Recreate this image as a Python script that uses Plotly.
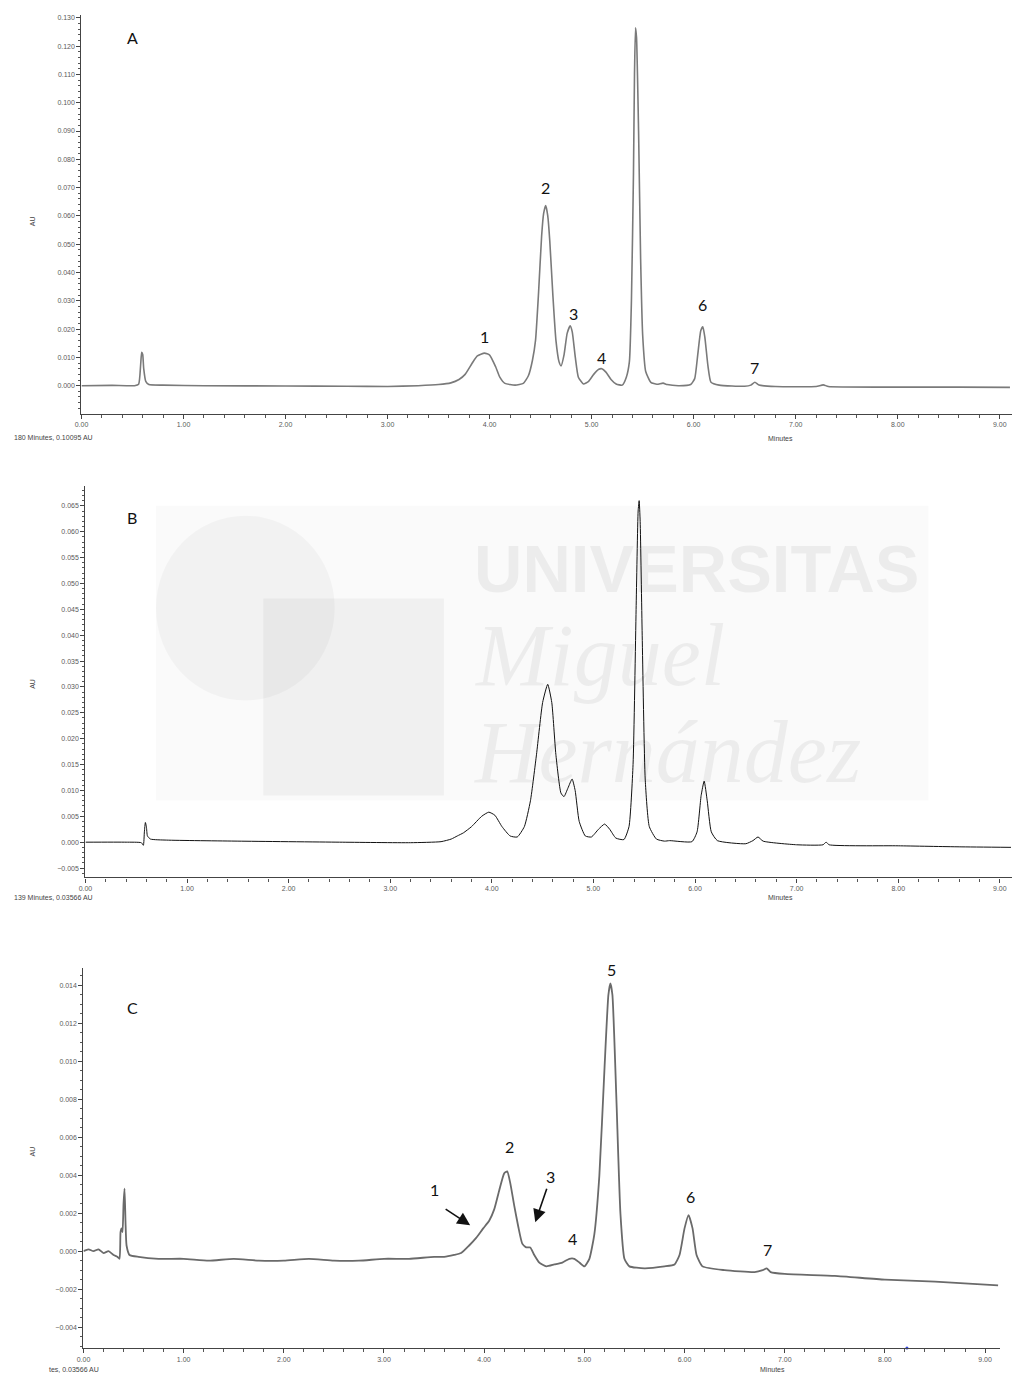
import plotly.graph_objects as go

W, H = 1013, 1375

# ---------------- chromatogram A ----------------
time_a = [0.00, 0.30, 0.52, 0.56, 0.58, 0.59, 0.60, 0.61, 0.63, 0.66, 0.80, 1.20, 2.00, 2.60,
          3.00, 3.30, 3.50, 3.62, 3.70, 3.76, 3.83, 3.88, 3.95, 4.00, 4.06, 4.10, 4.15, 4.25,
          4.33, 4.38, 4.42, 4.45, 4.48, 4.51, 4.53, 4.55, 4.57, 4.59, 4.62, 4.65, 4.68, 4.70,
          4.73, 4.76, 4.79, 4.81, 4.84, 4.87, 4.92, 4.97, 5.02, 5.07, 5.10, 5.14, 5.19, 5.24,
          5.30, 5.34, 5.37, 5.39, 5.41, 5.42, 5.43, 5.44, 5.46, 5.48, 5.50, 5.53, 5.58, 5.64,
          5.70, 5.74, 5.85, 5.97, 6.01, 6.04, 6.07, 6.09, 6.11, 6.14, 6.17, 6.25, 6.50, 6.56,
          6.60, 6.64, 6.80, 7.20, 7.27, 7.32, 8.00, 8.60, 9.10]
au_a = [0.0000, 0.0001, 0.0000, 0.0005, 0.0075, 0.0118, 0.0110, 0.0060, 0.0015, 0.0004,
        0.0002, 0.0000, -0.0001, -0.0002, -0.0003, 0.0000, 0.0004, 0.0010, 0.0022, 0.0040,
        0.0080, 0.0105, 0.0115, 0.0108, 0.0066, 0.0030, 0.0008, 0.0002, 0.0008, 0.0035,
        0.0090, 0.0160, 0.0330, 0.0530, 0.0610, 0.0637, 0.0600, 0.0510, 0.0320, 0.0160,
        0.0085, 0.0070, 0.0110, 0.0185, 0.0212, 0.0190, 0.0100, 0.0030, 0.0006, 0.0015,
        0.0040, 0.0058, 0.0060, 0.0048, 0.0022, 0.0006, 0.0002, 0.0030, 0.0085, 0.0300,
        0.0750, 0.1100, 0.1265, 0.1230, 0.0900, 0.0450, 0.0180, 0.0050, 0.0012, 0.0005,
        0.0009, 0.0004, 0.0000, 0.0004, 0.0025, 0.0110, 0.0195, 0.0208, 0.0170, 0.0070,
        0.0012, 0.0002, -0.0002, 0.0002, 0.0012, 0.0002, -0.0003, -0.0003, 0.0003, -0.0003,
        -0.0005, -0.0005, -0.0006]

# ---------------- chromatogram B ----------------
time_b = [0.00, 0.40, 0.55, 0.57, 0.58, 0.59, 0.60, 0.61, 0.64, 0.80, 1.50, 2.50, 3.20, 3.50,
          3.60, 3.66, 3.72, 3.80, 3.90, 3.97, 4.03, 4.10, 4.18, 4.25, 4.32, 4.38, 4.44, 4.50,
          4.55, 4.59, 4.63, 4.68, 4.71, 4.75, 4.79, 4.82, 4.86, 4.92, 4.98, 5.05, 5.11, 5.16,
          5.22, 5.30, 5.35, 5.39, 5.42, 5.44, 5.45, 5.46, 5.48, 5.51, 5.55, 5.62, 5.70, 5.75,
          5.97, 6.02, 6.06, 6.09, 6.12, 6.16, 6.22, 6.50, 6.57, 6.62, 6.67, 7.00, 7.26, 7.29,
          7.32, 8.00, 8.60, 9.11]
au_b = [0.0000, 0.0000, -0.0001, -0.0006, 0.0020, 0.0038, 0.0030, 0.0012, 0.0006, 0.0004,
        0.0002, 0.0000, -0.0001, 0.0001, 0.0006, 0.0012, 0.0018, 0.0030, 0.0050, 0.0058,
        0.0052, 0.0030, 0.0012, 0.0010, 0.0030, 0.0080, 0.0170, 0.0270, 0.0305, 0.0270,
        0.0170, 0.0095, 0.0088, 0.0105, 0.0122, 0.0100, 0.0040, 0.0012, 0.0010, 0.0025,
        0.0035, 0.0025, 0.0008, 0.0005, 0.0030, 0.0150, 0.0450, 0.0640, 0.0660, 0.0620,
        0.0400, 0.0120, 0.0030, 0.0006, 0.0002, 0.0003, 0.0001, 0.0020, 0.0090, 0.0118,
        0.0080, 0.0020, 0.0003, -0.0003, 0.0003, 0.0010, 0.0002, -0.0005, -0.0005, 0.0000,
        -0.0005, -0.0007, -0.0009, -0.0010]

# ---------------- chromatogram C ----------------
time_c = [0.00, 0.05, 0.10, 0.15, 0.20, 0.25, 0.30, 0.34, 0.36, 0.37, 0.38, 0.39, 0.40, 0.41,
          0.42, 0.43, 0.46, 0.55, 0.75, 1.00, 1.25, 1.50, 1.75, 2.00, 2.25, 2.50, 2.75, 3.00,
          3.25, 3.50, 3.60, 3.70, 3.77, 3.85, 3.92, 3.99, 4.05, 4.10, 4.15, 4.20, 4.23, 4.26,
          4.30, 4.34, 4.38, 4.42, 4.46, 4.50, 4.55, 4.62, 4.70, 4.78, 4.85, 4.90, 4.95, 5.00,
          5.05, 5.10, 5.15, 5.20, 5.24, 5.26, 5.28, 5.32, 5.36, 5.40, 5.45, 5.60, 5.80, 5.90,
          5.95, 6.00, 6.04, 6.08, 6.12, 6.18, 6.40, 6.70, 6.78, 6.82, 6.86, 7.00, 7.50, 8.00,
          8.50, 9.13]
au_c = [0.0000, 0.0001, 0.0000, 0.0001, -0.0001, 0.0000, -0.0002, -0.0003, -0.0004, 0.0010,
        0.0012, 0.0010, 0.0025, 0.0033, 0.0015, 0.0003, -0.0002, -0.0003, -0.0004, -0.0004,
        -0.0005, -0.0004, -0.0005, -0.0005, -0.0004, -0.0005, -0.0005, -0.0004, -0.0004,
        -0.0003, -0.0003, -0.0002, -0.0001, 0.0003, 0.0007, 0.0012, 0.0016, 0.0022, 0.0032,
        0.0041, 0.0042, 0.0036, 0.0024, 0.0013, 0.0004, 0.0002, 0.0002, -0.0002, -0.0006,
        -0.0008, -0.0007, -0.0006, -0.0004, -0.0004, -0.0006, -0.0008, -0.0004, 0.0009,
        0.0040, 0.0095, 0.0135, 0.0141, 0.0135, 0.0080, 0.0020, -0.0004, -0.0008, -0.0009,
        -0.0008, -0.0007, -0.0002, 0.0012, 0.0019, 0.0012, -0.0002, -0.0008, -0.0010,
        -0.0011, -0.0010, -0.0009, -0.0011, -0.0012, -0.0013, -0.0015, -0.0016, -0.0018]

x_ticks = [0, 1, 2, 3, 4, 5, 6, 7, 8, 9]
x_tick_text = ["0.00", "1.00", "2.00", "3.00", "4.00", "5.00", "6.00", "7.00", "8.00", "9.00"]

panel_letters = ["A", "B", "C"]
peaks_a = [("1", 3.95, 0.0173), ("2", 4.55, 0.0700), ("3", 4.82, 0.0254), ("4", 5.10, 0.0099),
           ("5", 5.43, 0.1318), ("6", 6.09, 0.0286), ("7", 6.60, 0.0064)]
peaks_c = [("1", 3.50, 0.00326), ("2", 4.25, 0.00553), ("3", 4.66, 0.00395), ("4", 4.88, 0.00068),
           ("5", 5.27, 0.01484), ("6", 6.06, 0.00289), ("7", 6.83, 0.00010)]
footers = ["180 Minutes, 0.10095 AU", "139 Minutes, 0.03566 AU", "tes, 0.03566 AU"]


def px(x):
    return x / W


def py(y):
    return 1 - y / H


TICK_FONT = dict(family="Liberation Sans, Arial, sans-serif", size=7, color="#5a5a5a")
LABEL_FONT = dict(family="Lato, Open Sans, sans-serif", size=16, color="#111111")

fig = go.Figure()

fig.add_trace(go.Scatter(x=time_a, y=au_a, mode="lines", xaxis="x", yaxis="y",
                         line=dict(color="#7a7a7a", width=1.6, shape="spline", smoothing=0.5),
                         showlegend=False, hoverinfo="skip"))
fig.add_trace(go.Scatter(x=time_b, y=au_b, mode="lines", xaxis="x2", yaxis="y2",
                         line=dict(color="#111111", width=1.0, shape="spline", smoothing=0.5),
                         showlegend=False, hoverinfo="skip"))
fig.add_trace(go.Scatter(x=time_c, y=au_c, mode="lines", xaxis="x3", yaxis="y3",
                         line=dict(color="#6a6a6a", width=1.8, shape="spline", smoothing=0.5),
                         showlegend=False, hoverinfo="skip"))
# small blue marker on the time axis of chromatogram C
fig.add_trace(go.Scatter(x=[8.22], y=[-0.0051], mode="markers", xaxis="x3", yaxis="y3",
                         marker=dict(color="#3344dd", size=3), showlegend=False,
                         hoverinfo="skip", cliponaxis=False))


def xaxis_cfg(x0, x1, y_anchor, rng):
    return dict(domain=[px(x0), px(x1)], anchor=y_anchor, range=rng,
                tickmode="array", tickvals=x_ticks, ticktext=x_tick_text,
                ticks="outside", ticklen=4, tickwidth=1, tickcolor="#444444",
                minor=dict(dtick=0.2, tick0=0, ticks="outside", ticklen=3, tickcolor="#555555",
                           showgrid=False),
                showline=True, linecolor="#444444", linewidth=1.3,
                showgrid=False, zeroline=False, tickfont=TICK_FONT, fixedrange=True)


def yaxis_cfg(top, bottom, x_anchor, rng, dtick, minor_dtick):
    return dict(domain=[py(bottom), py(top)], anchor=x_anchor, range=rng,
                dtick=dtick, tick0=0, tickformat=".3f",
                ticks="outside", ticklen=4, tickwidth=1, tickcolor="#444444",
                minor=dict(dtick=minor_dtick, tick0=0, ticks="outside", ticklen=2,
                           tickcolor="#555555", showgrid=False),
                showline=True, linecolor="#444444", linewidth=1.3,
                showgrid=False, zeroline=False, tickfont=TICK_FONT, fixedrange=True)


layout = dict(
    width=W, height=H, margin=dict(l=0, r=0, t=0, b=0),
    paper_bgcolor="white", plot_bgcolor="rgba(0,0,0,0)",
    xaxis=xaxis_cfg(75, 1012, "y", [0, 9.12]),
    yaxis=yaxis_cfg(14, 413, "x", [-0.0099, 0.131], 0.01, 0.002),
    xaxis2=xaxis_cfg(79, 1012, "y2", [0, 9.12]),
    yaxis2=yaxis_cfg(485, 877, "x2", [-0.0068, 0.0689], 0.005, 0.001),
    xaxis3=xaxis_cfg(77, 1000, "y3", [0, 9.15]),
    yaxis3=yaxis_cfg(968, 1348, "x3", [-0.0051, 0.0149], 0.002, 0.0005),
)
fig.update_layout(**layout)

annotations = []
small = dict(family="Liberation Sans, Arial, sans-serif", size=7, color="#444444")

# panel letters
for letter, (lx, ly) in zip(panel_letters, [(126, 37), (126, 517), (126, 1007)]):
    annotations.append(dict(x=px(lx), y=py(ly), xref="paper", yref="paper", text=letter,
                            showarrow=False, font=LABEL_FONT, xanchor="center", yanchor="middle"))

# peak numbers
for name, t, v in peaks_a:
    annotations.append(dict(x=t, y=v, xref="x", yref="y", text=name, showarrow=False,
                            font=LABEL_FONT, xanchor="center", yanchor="middle"))
for name, t, v in peaks_c:
    annotations.append(dict(x=t, y=v, xref="x3", yref="y3", text=name, showarrow=False,
                            font=LABEL_FONT, xanchor="center", yanchor="middle"))

# arrows pointing at the shoulders in C
annotations.append(dict(x=3.86, y=0.00137, xref="x3", yref="y3", ax=-26, ay=-17,
                        showarrow=True, arrowhead=2, arrowsize=1.6, arrowwidth=1.6,
                        arrowcolor="#111111", text=""))
annotations.append(dict(x=4.51, y=0.00153, xref="x3", yref="y3", ax=12, ay=-35,
                        showarrow=True, arrowhead=2, arrowsize=1.6, arrowwidth=1.6,
                        arrowcolor="#111111", text=""))

# axis captions
for ay_px in [213, 683, 1158]:
    annotations.append(dict(x=px(20), y=py(ay_px), xref="paper", yref="paper", text="AU",
                            textangle=-90, showarrow=False, font=small))
caption_rows = [(432, 431), (892, 892), (1364, 1364)]
for (mx, (fy_min, fy_foot)), fx, text in zip([(793, caption_rows[0]), (793, caption_rows[1]),
                                              (785, caption_rows[2])], [5, 5, 40], footers):
    annotations.append(dict(x=px(mx), y=py(fy_min), xref="paper", yref="paper", text="Minutes",
                            showarrow=False, font=small, yanchor="top"))
    annotations.append(dict(x=px(fx), y=py(fy_foot), xref="paper", yref="paper", text=text,
                            showarrow=False, font=small, xanchor="left", yanchor="top"))

# faint watermark behind chromatogram B
wm_color = "rgba(0,0,0,0.055)"
annotations.append(dict(x=px(468), y=py(568), xref="paper", yref="paper", text="<b>UNIVERSITAS</b>",
                        showarrow=False, xanchor="left",
                        font=dict(family="Liberation Sans Narrow, Liberation Sans, sans-serif",
                                  size=67, color=wm_color)))
annotations.append(dict(x=px(468), y=py(655), xref="paper", yref="paper", text="<i>Miguel</i>",
                        showarrow=False, xanchor="left",
                        font=dict(family="Liberation Serif, serif", size=88, color=wm_color)))
annotations.append(dict(x=px(468), y=py(752), xref="paper", yref="paper", text="<i>Hernández</i>",
                        showarrow=False, xanchor="left",
                        font=dict(family="Liberation Serif, serif", size=88, color=wm_color)))
fig.update_layout(annotations=annotations)

shapes = [
    dict(type="rect", xref="paper", yref="paper", x0=px(150), x1=px(928), y0=py(800), y1=py(505),
         fillcolor="rgba(0,0,0,0.018)", line=dict(width=0), layer="below"),
    dict(type="circle", xref="paper", yref="paper", x0=px(150), x1=px(330), y0=py(700), y1=py(515),
         fillcolor="rgba(0,0,0,0.03)", line=dict(width=0), layer="below"),
    dict(type="rect", xref="paper", yref="paper", x0=px(258), x1=px(440), y0=py(795), y1=py(598),
         fillcolor="rgba(0,0,0,0.04)", line=dict(width=0), layer="below"),
]
fig.update_layout(shapes=shapes)

fig.write_html("out.html")
